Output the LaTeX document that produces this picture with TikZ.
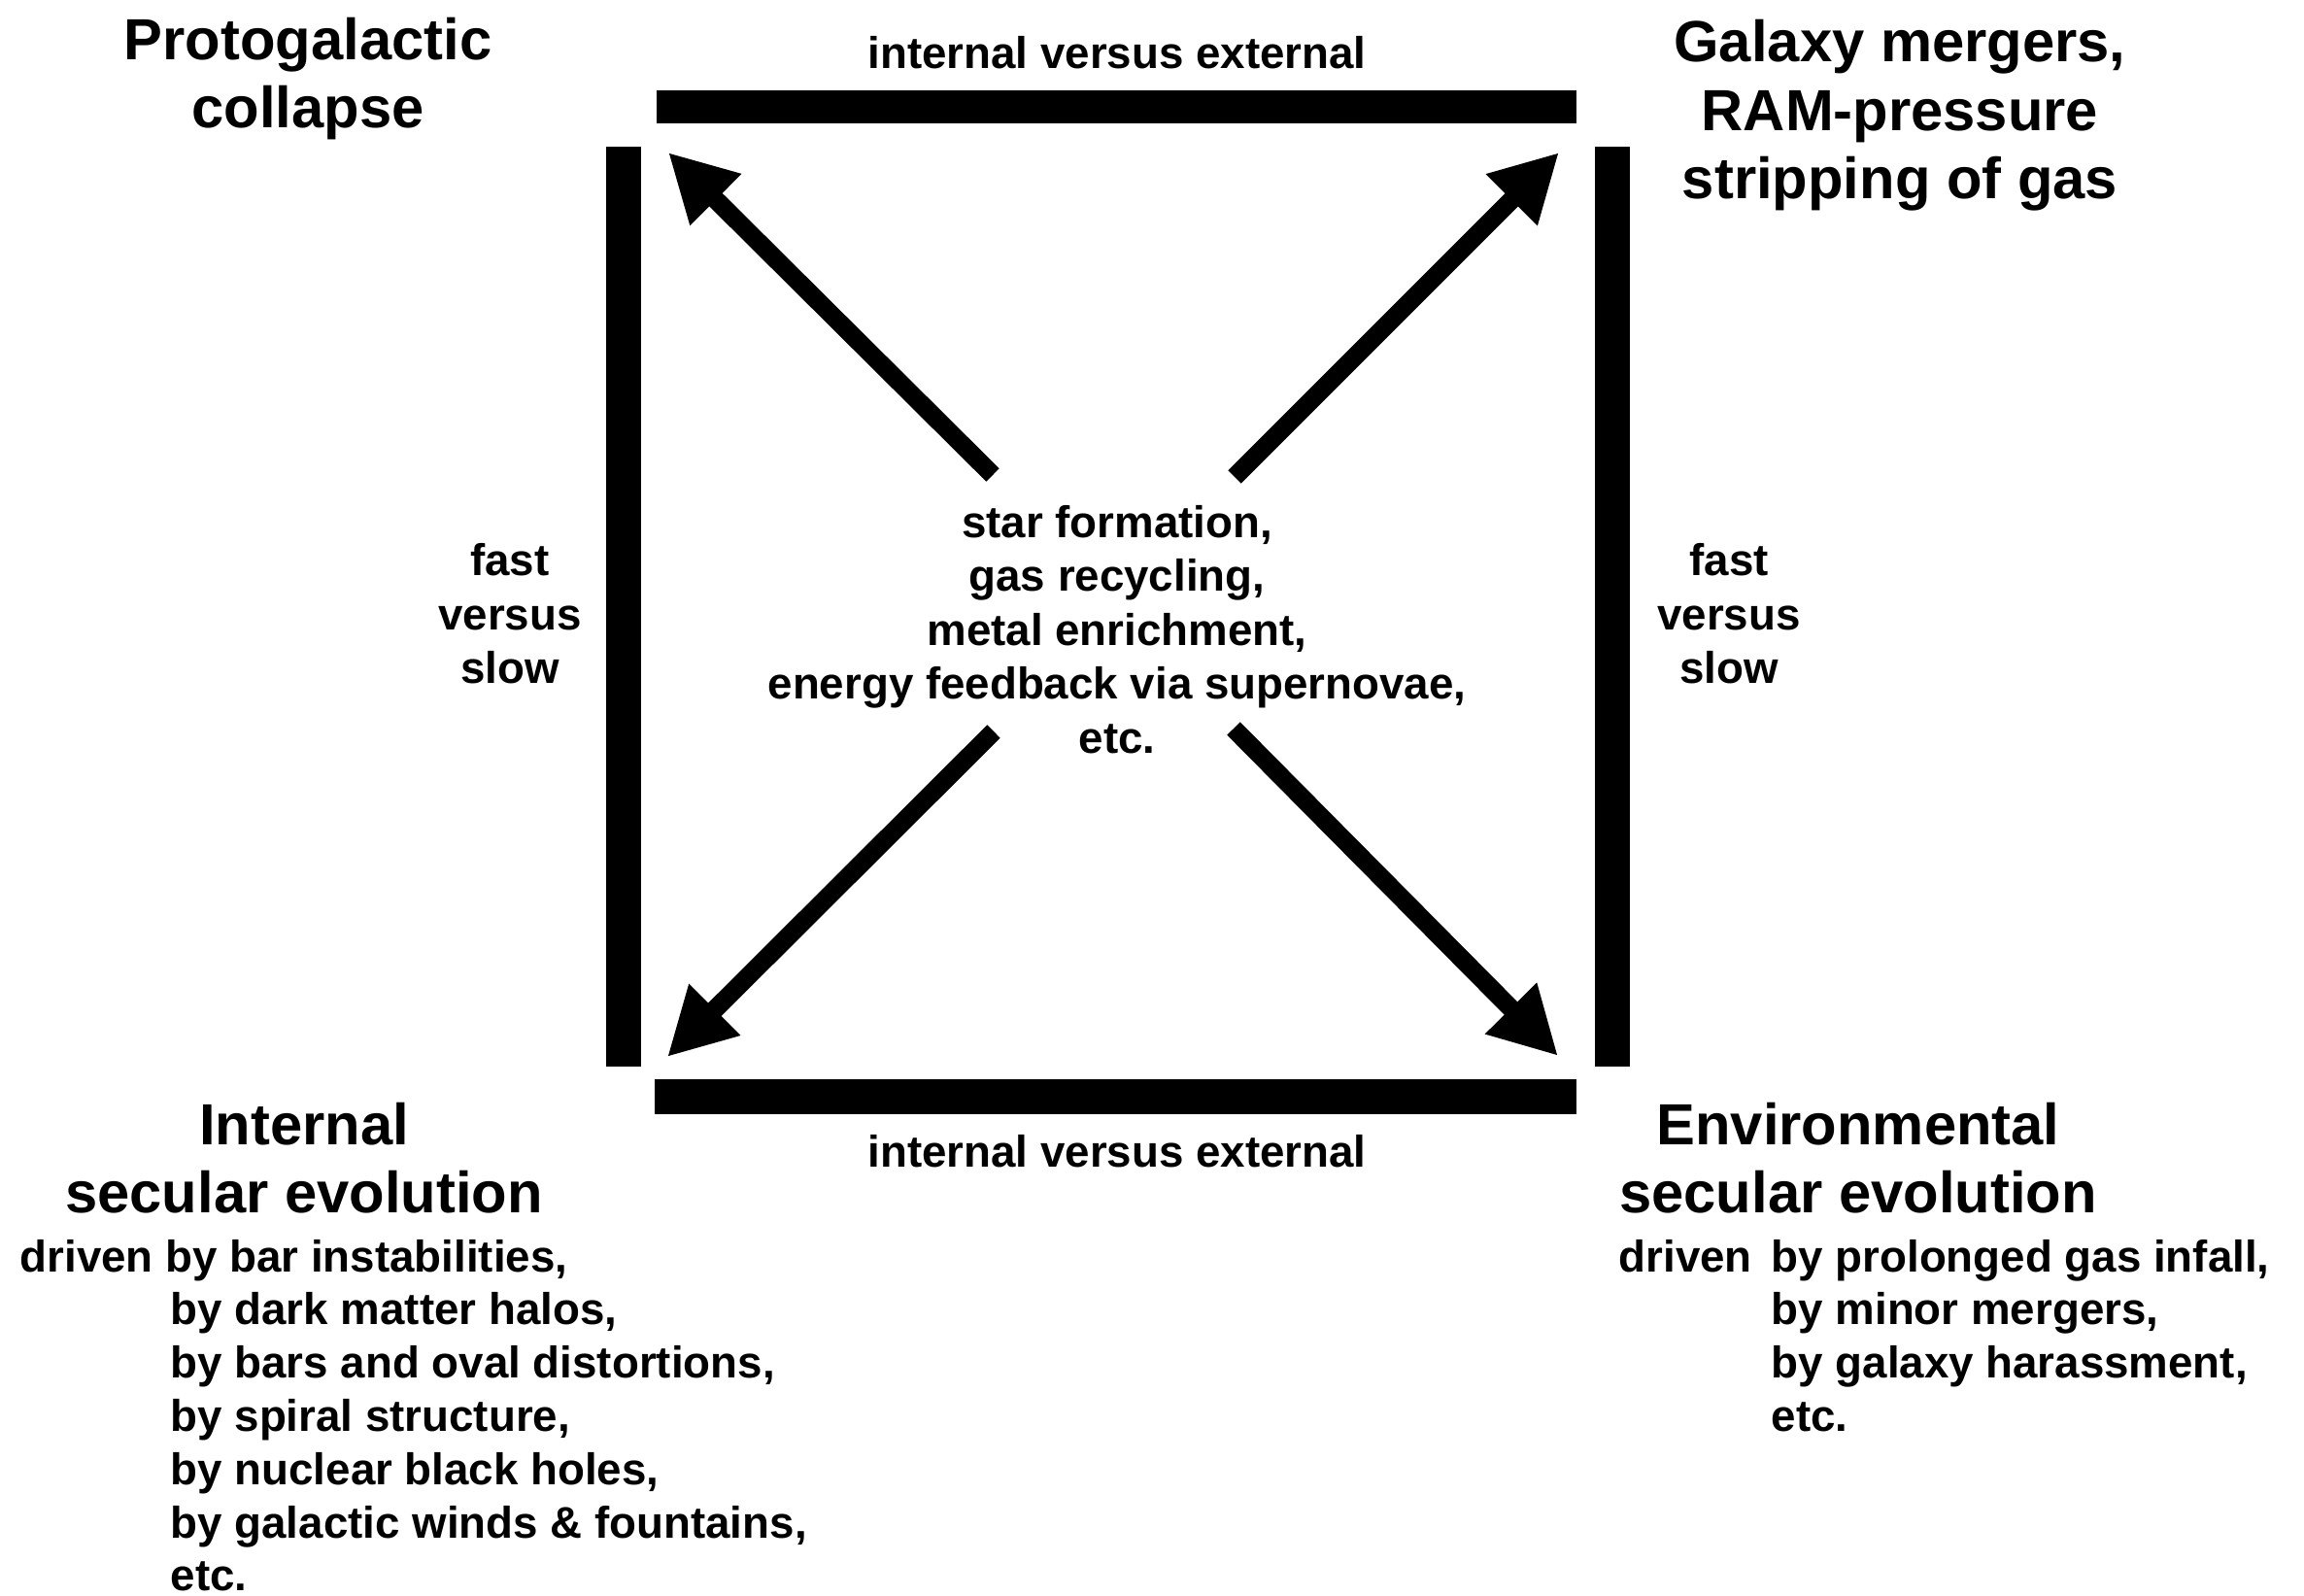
\documentclass[tikz,border=0pt]{standalone}
\usepackage{fontspec}
\setmainfont{Liberation Sans}
\usepackage{tikz}
\usetikzlibrary{arrows.meta}

\begin{document}
\begin{tikzpicture}[
  big/.style = {align=center, inner sep=0pt, font=\fontsize{17}{20.1}\selectfont\bfseries},
  small/.style = {align=center, inner sep=0pt, font=\fontsize{13}{15.8}\selectfont\bfseries},
  list/.style = {anchor=base west, inner sep=0pt, font=\fontsize{13}{15.6}\selectfont\bfseries},
  bar/.style = {fill=black},
  arr/.style = {line width=0.19cm, -{Triangle[length=0.69cm, width=0.70cm]}}
]
\useasboundingbox (0,0) rectangle (23.72,-16.43);
\fill[bar] (6.76,-0.93) rectangle (16.23,-1.27);
\fill[bar] (6.74,-11.11) rectangle (16.23,-11.47);
\fill[bar] (6.24,-1.51) rectangle (6.60,-10.98);
\fill[bar] (16.42,-1.51) rectangle (16.78,-10.98);

\node[small] (topaxis) at (11.50,-0.54) {internal versus external};
\node[small] (botaxis) at (11.50,-11.85) {internal versus external};
\node[small] (leftaxis) at (5.25,-6.32) {fast\\versus\\slow};
\node[small] (rightaxis) at (17.80,-6.32) {fast\\versus\\slow};
\node[big] (proto) at (3.17,-0.81) {Protogalactic\\collapse};
\node[big] (merge) at (19.56,-1.19) {Galaxy mergers,\\RAM-pressure\\stripping of gas};
\node[small] (proc) at (11.50,-6.48) {star formation,\\gas recycling,\\metal enrichment,\\energy feedback via supernovae,\\etc.};
\node[big] (intsec) at (3.13,-11.92) {Internal\\secular evolution};
\node[big] (envsec) at (19.13,-11.92) {Environmental\\secular evolution};
\node[list] (intdrv) at (0.20,-13.09) {\begin{tabular}[t]{@{}p{1.55cm}@{}l@{}}
  \multicolumn{2}{@{}l@{}}{driven by bar instabilities,}\\
  & by dark matter halos,\\
  & by bars and oval distortions,\\
  & by spiral structure,\\
  & by nuclear black holes,\\
  & by galactic winds \& fountains,\\
  & etc.
\end{tabular}};
\node[list] (envdrv) at (16.66,-13.09) {\begin{tabular}[t]{@{}p{1.57cm}@{}l@{}}
  driven & by prolonged gas infall,\\
  & by minor mergers,\\
  & by galaxy harassment,\\
  & etc.
\end{tabular}};

\coordinate (tlfrom) at (10.22,-4.89);
\coordinate (tlto) at (6.88,-1.57);
\coordinate (trfrom) at (12.71,-4.91);
\coordinate (trto) at (16.05,-1.57);
\coordinate (blfrom) at (10.23,-7.53);
\coordinate (blto) at (6.87,-10.88);
\coordinate (brfrom) at (12.70,-7.50);
\coordinate (brto) at (16.04,-10.87);
\draw[arr] (tlfrom) -- (tlto);
\draw[arr] (trfrom) -- (trto);
\draw[arr] (blfrom) -- (blto);
\draw[arr] (brfrom) -- (brto);
\end{tikzpicture}
\end{document}
